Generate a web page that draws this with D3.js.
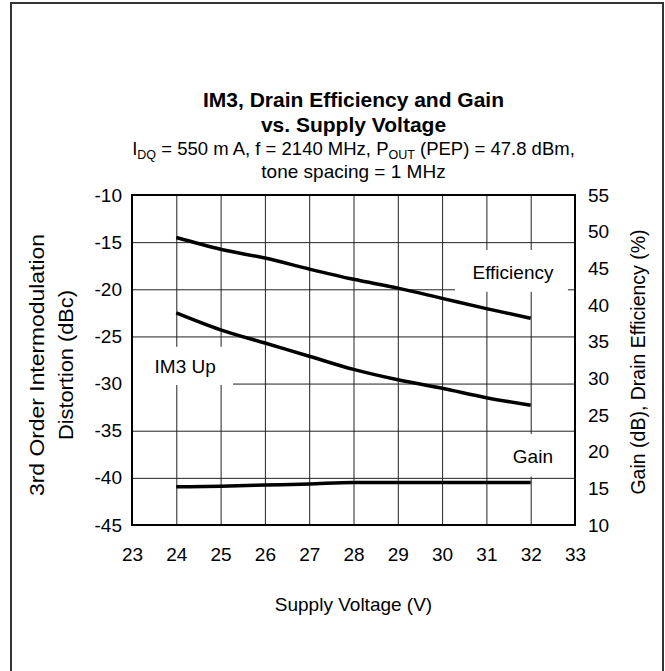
<!DOCTYPE html>
<html>
<head>
<meta charset="utf-8">
<script src="https://cdn.jsdelivr.net/npm/d3@7"></script>
<style>
  body { margin: 0; background: #fff; }
  text { font-family: Arial, "Liberation Sans", sans-serif; fill: #000; }
</style>
</head>
<body>
<div id="container"></div>
<script>
// supply voltage points (V)
const voltage = [24, 25, 26, 27, 28, 29, 30, 31, 32];
// IM3 upper (dBc), left axis
const im3Up = [-22.5, -24.3, -25.7, -27.1, -28.5, -29.6, -30.5, -31.5, -32.3];
// drain efficiency (%), right axis
const efficiency = [49.2, 47.6, 46.4, 44.9, 43.5, 42.3, 40.9, 39.5, 38.2];
// gain (dB), right axis
const gain = [15.2, 15.3, 15.45, 15.6, 15.8, 15.8, 15.8, 15.8, 15.8];

const xTicks = [23, 24, 25, 26, 27, 28, 29, 30, 31, 32, 33];
const leftTicks = [-10, -15, -20, -25, -30, -35, -40, -45];
const rightTicks = [55, 50, 45, 40, 35, 30, 25, 20, 15, 10];

const width = 665;
const height = 671;
const plot = {left: 132, right: 575, top: 195, bottom: 525};
const fontSize = 19;

const svg = d3.select("#container")
    .append("svg")
    .attr("width", width)
    .attr("height", height);

//outer frame, runs off the bottom of the picture
svg.append("rect")
    .attr("x", 11)
    .attr("y", 3)
    .attr("width", 652)
    .attr("height", 700)
    .attr("fill", "none")
    .attr("stroke", "#333")
    .attr("stroke-width", 2);

const x = d3.scaleLinear().domain([23, 33]).range([plot.left, plot.right]);
const yLeft = d3.scaleLinear().domain([-45, -10]).range([plot.bottom, plot.top]);
const yRight = d3.scaleLinear().domain([10, 55]).range([plot.bottom, plot.top]);

//gridlines
svg.append("g")
    .attr("transform", `translate(0,${plot.bottom})`)
    .call(d3.axisBottom(x).tickValues(xTicks.slice(1, -1)).tickSize(-(plot.bottom - plot.top)).tickFormat(""))
    .call(g => g.select(".domain").remove())
    .call(g => g.selectAll("line").attr("stroke", "#222").attr("stroke-width", 1));

svg.append("g")
    .attr("transform", `translate(${plot.left},0)`)
    .call(d3.axisLeft(yLeft).tickValues(leftTicks.slice(1, -1)).tickSize(-(plot.right - plot.left)).tickFormat(""))
    .call(g => g.select(".domain").remove())
    .call(g => g.selectAll("line").attr("stroke", "#222").attr("stroke-width", 1));

//label boxes that hide the grid behind the series names
const boxes = [
    {x0: 30.29, x1: 32.84, y0: 47.5, y1: 41.8, text: "Efficiency", tx: 31.6, ty: 43.6, scale: yRight},
    {x0: 23.0, x1: 25.28, y0: -26.1, y1: -30.15, text: "IM3 Up", tx: 24.2, ty: -28.9, scale: yLeft},
    {x0: 31.3, x1: 32.84, y0: 22.4, y1: 16.6, text: "Gain", tx: 32.05, ty: 18.46, scale: yRight}
];
boxes.forEach(b => {
    svg.append("rect")
        .attr("x", x(b.x0))
        .attr("y", b.scale(b.y0))
        .attr("width", x(b.x1) - x(b.x0))
        .attr("height", b.scale(b.y1) - b.scale(b.y0))
        .attr("fill", "#fff");
    svg.append("text")
        .attr("x", x(b.tx))
        .attr("y", b.scale(b.ty))
        .attr("text-anchor", "middle")
        .attr("font-size", fontSize)
        .text(b.text);
});

//plot frame
svg.append("rect")
    .attr("x", plot.left)
    .attr("y", plot.top)
    .attr("width", plot.right - plot.left)
    .attr("height", plot.bottom - plot.top)
    .attr("fill", "none")
    .attr("stroke", "#000")
    .attr("stroke-width", 2);

//data lines
const series = [
    {values: im3Up, scale: yLeft},
    {values: efficiency, scale: yRight},
    {values: gain, scale: yRight}
];
series.forEach(s => {
    const line = d3.line()
        .x((d, i) => x(voltage[i]))
        .y(d => s.scale(d))
        .curve(d3.curveMonotoneX);
    svg.append("path")
        .datum(s.values)
        .attr("d", line)
        .attr("fill", "none")
        .attr("stroke", "#000")
        .attr("stroke-width", 3.5);
});

//tick labels, plain hyphen for the minus sign
const fmt = d => String(d);
svg.append("g")
    .attr("transform", `translate(0,${plot.bottom})`)
    .call(d3.axisBottom(x).tickValues(xTicks).tickSize(0).tickPadding(23).tickFormat(fmt))
    .call(g => g.select(".domain").remove())
    .call(g => g.selectAll("text").attr("font-size", fontSize).attr("font-family", null));

svg.append("g")
    .attr("transform", `translate(${plot.left},0)`)
    .call(d3.axisLeft(yLeft).tickValues(leftTicks).tickSize(0).tickPadding(10).tickFormat(fmt))
    .call(g => g.select(".domain").remove())
    .call(g => g.selectAll("text").attr("font-size", fontSize).attr("font-family", null));

svg.append("g")
    .attr("transform", `translate(${plot.right},0)`)
    .call(d3.axisRight(yRight).tickValues(rightTicks).tickSize(0).tickPadding(13).tickFormat(fmt))
    .call(g => g.select(".domain").remove())
    .call(g => g.selectAll("text").attr("font-size", fontSize).attr("font-family", null));

//titles
const cx = (plot.left + plot.right) / 2;
svg.append("text")
    .attr("x", cx).attr("y", 107)
    .attr("text-anchor", "middle")
    .attr("font-size", 21).attr("font-weight", "bold")
    .text("IM3, Drain Efficiency and Gain");
svg.append("text")
    .attr("x", cx).attr("y", 132)
    .attr("text-anchor", "middle")
    .attr("font-size", 21).attr("font-weight", "bold")
    .text("vs. Supply Voltage");

const sub = svg.append("text")
    .attr("x", cx).attr("y", 155)
    .attr("text-anchor", "middle")
    .attr("font-size", 18.5);
sub.append("tspan").text("I");
sub.append("tspan").attr("font-size", 12.5).attr("dy", 4).text("DQ");
sub.append("tspan").attr("dy", -4).text(" = 550 m A, f = 2140 MHz, P");
sub.append("tspan").attr("font-size", 12.5).attr("dy", 4).text("OUT");
sub.append("tspan").attr("dy", -4).text(" (PEP) = 47.8 dBm,");

svg.append("text")
    .attr("x", cx).attr("y", 178)
    .attr("text-anchor", "middle")
    .attr("font-size", fontSize)
    .text("tone spacing = 1 MHz");

svg.append("text")
    .attr("x", cx).attr("y", 611)
    .attr("text-anchor", "middle")
    .attr("font-size", fontSize)
    .text("Supply Voltage (V)");

const cy = 365;
svg.append("text")
    .attr("transform", `translate(44,${cy}) rotate(-90)`)
    .attr("text-anchor", "middle")
    .attr("font-size", 20)
    .attr("textLength", 262)
    .attr("lengthAdjust", "spacingAndGlyphs")
    .text("3rd Order Intermodulation");
svg.append("text")
    .attr("transform", `translate(73,${cy}) rotate(-90)`)
    .attr("text-anchor", "middle")
    .attr("font-size", 20)
    .attr("textLength", 150)
    .attr("lengthAdjust", "spacingAndGlyphs")
    .text("Distortion (dBc)");

svg.append("text")
    .attr("transform", `translate(645,362) rotate(-90)`)
    .attr("text-anchor", "middle")
    .attr("font-size", 19.5)
    .text("Gain (dB), Drain Efficiency (%)");
</script>
</body>
</html>
